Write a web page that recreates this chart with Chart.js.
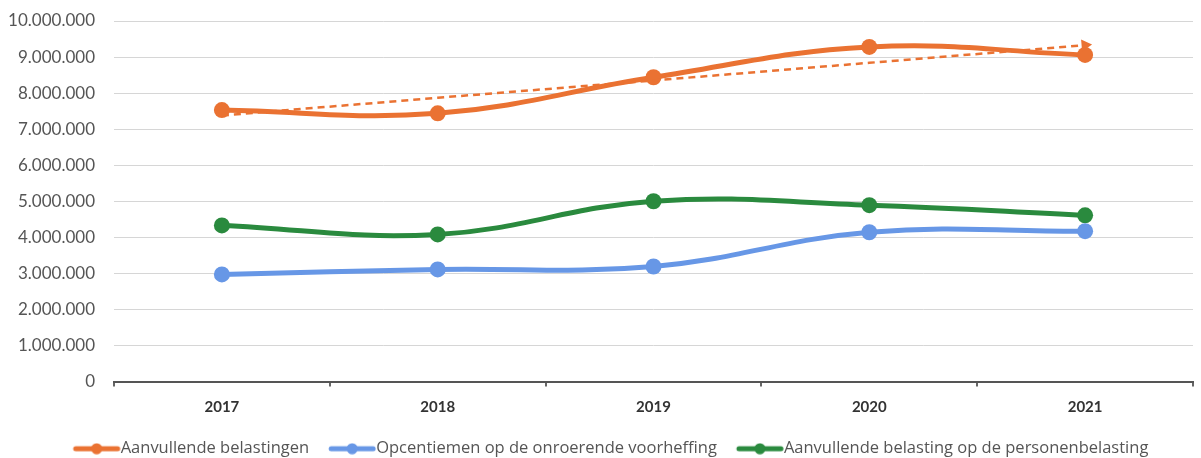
<!DOCTYPE html>
<html>
<head>
<meta charset="utf-8">
<script src="https://cdn.jsdelivr.net/npm/chart.js@4"></script>
<style>
  html, body { margin: 0; padding: 0; background: #fff; }
  #wrap { width: 1201px; height: 458px; }
</style>
</head>
<body>
<div id="wrap"><canvas id="chart"></canvas></div>
<script>
/* ── Data ── */
const years = ['2017', '2018', '2019', '2020', '2021'];
const aanvullendeBelastingen = [7530000, 7440000, 8440000, 9280000, 9060000];
const opcentiemen = [2970000, 3110000, 3190000, 4140000, 4170000];
const personenbelasting = [4330000, 4080000, 5000000, 4890000, 4610000];
const trendBelastingen = [7380000, 7870000, 8350000, 8840000, 9330000];
const yTicks = [0, 1000000, 2000000, 3000000, 4000000, 5000000, 6000000, 7000000, 8000000, 9000000, 10000000];

const ORANGE = '#EA7232';
const BLUE = '#6797E6';
const GREEN = '#2A8A3E';
const FONT = 'Lato, "Open Sans", sans-serif';
const LEG_FONT = '"Open Sans", Lato, sans-serif';

/* ── Legenda: lijn met bolletje ── */
const LEG_SIZE = 16.5, LEG_PAD = 5, ICON_OFF = 15, ICON_LEN = 46;
const LEG_BOXW = ICON_OFF + ICON_LEN + 1 - LEG_SIZE / 2;

function legendIcon(color) {
  const c = document.createElement('canvas');
  c.width = 72; c.height = 12;
  const left = LEG_BOXW / 2 - c.width / 2;   // canvas left relative to item x
  const x0 = ICON_OFF - left, x1 = x0 + ICON_LEN;
  const g = c.getContext('2d');
  g.strokeStyle = color; g.lineWidth = 5; g.lineCap = 'round';
  g.beginPath(); g.moveTo(x0 + 2, 6); g.lineTo(x1 - 2, 6); g.stroke();
  g.fillStyle = color;
  g.beginPath(); g.arc((x0 + x1) / 2, 6, 5.5, 0, Math.PI * 2); g.fill();
  return c;
}

function fmt(v) { return String(v).replace(/\B(?=(\d{3})+(?!\d))/g, '.'); }

const series = [
  { label: 'Aanvullende belastingen', data: aanvullendeBelastingen, color: ORANGE },
  { label: 'Opcentiemen op de onroerende voorheffing', data: opcentiemen, color: BLUE },
  { label: 'Aanvullende belasting op de personenbelasting', data: personenbelasting, color: GREEN },
];

const datasets = [{
  label: 'trend',
  data: trendBelastingen,
  borderColor: ORANGE,
  backgroundColor: ORANGE,
  borderWidth: 2.5,
  borderDash: [7, 5],
  tension: 0,
  pointRadius: trendBelastingen.map((v, i) => i === trendBelastingen.length - 1 ? 7 : 0),
  pointStyle: 'triangle',
  rotation: 85,
  pointBorderWidth: 0,
}].concat(series.map(s => ({
  label: s.label,
  data: s.data,
  borderColor: s.color,
  backgroundColor: s.color,
  borderWidth: 5,
  tension: 0.4,
  pointRadius: 8,
  pointBorderWidth: 0,
  pointBackgroundColor: s.color,
  icon: legendIcon(s.color),
})));

new Chart(document.getElementById('chart'), {
  type: 'line',
  data: { labels: years, datasets },
  options: {
    responsive: true,
    maintainAspectRatio: false,
    animation: false,
    layout: { padding: { top: 21, left: 6, right: 0, bottom: -9 } },
    plugins: {
      tooltip: { enabled: false },
      legend: {
        position: 'bottom',
        labels: {
          font: { family: LEG_FONT, size: LEG_SIZE },
          color: '#555',
          usePointStyle: true,
          pointStyleWidth: LEG_BOXW,
          boxHeight: 12,
          padding: LEG_PAD,
          filter: item => item.datasetIndex > 0,
          generateLabels: chart => chart.data.datasets.map((ds, i) => ({
            text: ds.label,
            pointStyle: ds.icon,
            fillStyle: ds.borderColor,
            strokeStyle: ds.borderColor,
            lineWidth: 0,
            fontColor: '#555',
            datasetIndex: i,
          })),
        },
      },
    },
    scales: {
      x: {
        offset: true,
        afterFit: axis => { axis.height += 7; },
        grid: { display: true, drawOnChartArea: false, drawTicks: true, tickLength: 5, offset: true, color: '#666', lineWidth: 2 },
        border: { display: true, color: '#555', width: 2 },
        ticks: { font: { family: FONT, size: 15, weight: 'bold' }, color: '#333', padding: 12 },
      },
      y: {
        min: 0,
        max: 10000000,
        afterBuildTicks: axis => { axis.ticks = yTicks.map(v => ({ value: v })); },
        afterFit: axis => { axis.width = 108; axis.paddingTop = 0; axis.paddingBottom = 0; },
        grid: { color: '#d6d6d6', lineWidth: 1, drawTicks: false },
        border: { display: false },
        ticks: { font: { family: FONT, size: 17 }, color: '#555', padding: 19, callback: v => fmt(v) },
      },
    },
  },
});
</script>
</body>
</html>
